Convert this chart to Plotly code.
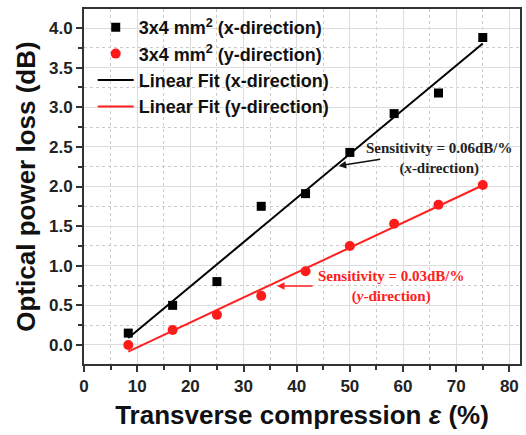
import numpy as np
import plotly.graph_objects as go

strain = [8.33, 16.67, 25.0, 33.33, 41.67, 50.0, 58.33, 66.67, 75.0]
loss_x = [0.15, 0.50, 0.80, 1.75, 1.91, 2.43, 2.92, 3.18, 3.88]
loss_y = [0.00, 0.19, 0.38, 0.62, 0.93, 1.25, 1.53, 1.77, 2.02]

sx = np.array(strain)
px = np.polyfit(sx, np.array(loss_x), 1)
py = np.polyfit(sx, np.array(loss_y), 1)
fit_x = [px[0] * strain[0] + px[1], px[0] * strain[-1] + px[1]]
fit_y = [py[0] * strain[0] + py[1], py[0] * strain[-1] + py[1]]
fit_strain = [strain[0], strain[-1]]

fig = go.Figure()
fig.add_trace(go.Scatter(x=strain, y=loss_x, mode="markers", name="3x4 mm<sup>2</sup> (x-direction)",
                         marker=dict(symbol="square", size=9, color="black")))
fig.add_trace(go.Scatter(x=strain, y=loss_y, mode="markers", name="3x4 mm<sup>2</sup> (y-direction)",
                         marker=dict(symbol="circle", size=10, color="#ff1a1a")))
fig.add_trace(go.Scatter(x=fit_strain, y=fit_x, mode="lines", name="Linear Fit (x-direction)",
                         line=dict(color="black", width=2)))
fig.add_trace(go.Scatter(x=fit_strain, y=fit_y, mode="lines", name="Linear Fit (y-direction)",
                         line=dict(color="#ff2020", width=2)))

axis_common = dict(
    showline=True, linecolor="#333333", linewidth=2, mirror=True,
    ticks="outside", ticklen=6, tickwidth=2, tickcolor="#333333",
    showgrid=True, gridcolor="#dddddd", gridwidth=1,
    zeroline=False,
    tickfont=dict(family="Liberation Sans, Arial", size=17, color="#222222", weight="bold"),
)

fig.update_xaxes(range=[0, 82], dtick=10, tick0=0,
                 minor=dict(dtick=5, ticks="outside", ticklen=4, tickwidth=2, tickcolor="#333333",
                            showgrid=True, gridcolor="#cccccc", griddash="dot"),
                 title=dict(text="Transverse compression <i>ε</i> (%)", standoff=10,
                            font=dict(family="Liberation Sans, Arial", size=26, color="#111111", weight="bold")),
                 **axis_common)
fig.update_yaxes(range=[-0.24, 4.24], dtick=0.5, tick0=0, tickformat=".1f",
                 minor=dict(dtick=0.25, ticks="outside", ticklen=4, tickwidth=2, tickcolor="#333333",
                            showgrid=True, gridcolor="#cccccc", griddash="dot"),
                 title=dict(text="Optical power loss (dB)", standoff=6,
                            font=dict(family="Liberation Sans, Arial", size=26, color="#111111", weight="bold")),
                 **axis_common)

fig.add_annotation(x=47.9, y=2.26, xref="x", yref="y", ax=43, ay=-7, axref="pixel", ayref="pixel",
                   showarrow=True, arrowhead=2, arrowsize=1, arrowwidth=1.5, arrowcolor="#111111", text="")
fig.add_annotation(x=66.7, y=2.35, xref="x", yref="y", showarrow=False,
                   text="Sensitivity = 0.06dB/%<br>(<i>x</i>-direction)", align="center",
                   font=dict(family="Liberation Serif, Times New Roman", size=15, color="#222222", weight="bold"))
fig.add_annotation(x=36.3, y=0.745, xref="x", yref="y", ax=37, ay=0, axref="pixel", ayref="pixel",
                   showarrow=True, arrowhead=2, arrowsize=1, arrowwidth=1.5, arrowcolor="#ff2020", text="")
fig.add_annotation(x=57.7, y=0.74, xref="x", yref="y", showarrow=False,
                   text="Sensitivity = 0.03dB/%<br>(<i>y</i>-direction)", align="center",
                   font=dict(family="Liberation Serif, Times New Roman", size=15, color="#ff2020", weight="bold"))

fig.update_layout(
    width=526, height=435,
    margin=dict(l=84, r=4, t=9, b=71),
    paper_bgcolor="white", plot_bgcolor="white",
    showlegend=True,
    legend=dict(x=0.02, y=1.0, xanchor="left", yanchor="top", bgcolor="rgba(0,0,0,0)",
                itemwidth=36, tracegroupgap=0,
                font=dict(family="Liberation Sans, Arial", size=18, color="#111111", weight="bold")),
)

fig.write_html("out.html")
